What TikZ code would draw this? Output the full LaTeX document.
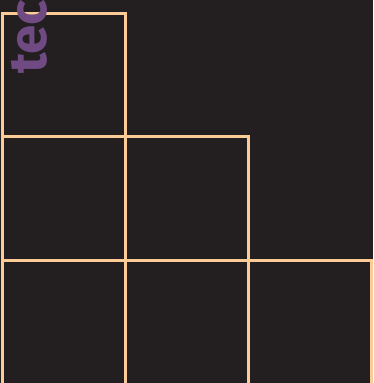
\documentclass[tikz,border=0pt]{standalone}
\usepackage{fontspec}
\newfontfamily\titlefont{Fira Sans}
\usetikzlibrary{positioning}
\definecolor{bgdark}{HTML}{231F20}
\definecolor{peach}{HTML}{FDCB96}
\definecolor{plum}{HTML}{704A82}

\begin{document}
\begin{tikzpicture}[x=1pt, y=-1pt,
    cell/.style={draw=peach, line width=3pt, minimum width=123pt, minimum height=123.7pt, inner sep=0pt, outer sep=0pt},
    word/.style={text=plum, font=\titlefont\bfseries\fontsize{53}{53}\selectfont, inner sep=0pt},
    node distance=0pt
  ]
    \useasboundingbox (0,0) rectangle (373,383);
    \fill[bgdark] (0,0) rectangle (373,383);
    \clip (0,0) rectangle (373,383);

    \node[cell, anchor=north west] (top) at (2,13) {};
    \node[cell, below=of top] (midA) {};
    \node[cell, right=of midA] (midB) {};
    \node[cell, below=of midA] (botA) {};
    \node[cell, right=of botA] (botB) {};
    \node[cell, right=of botB] (botC) {};

    \node[word, rotate=90, anchor=base west] (title) at (46,74) {tec};
  \end{tikzpicture}
\end{document}
